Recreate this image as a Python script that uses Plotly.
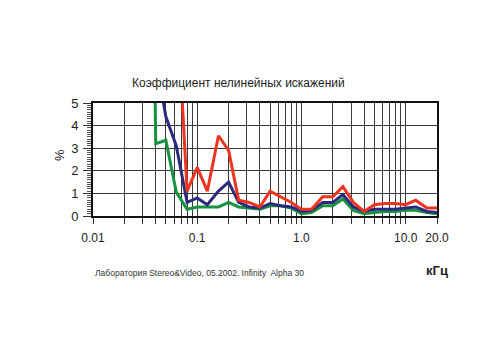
import plotly.graph_objects as go

freqs = [0.0315, 0.04, 0.05, 0.063, 0.08, 0.1, 0.125, 0.16, 0.2, 0.25, 0.315, 0.4, 0.5,
         0.63, 0.8, 1.0, 1.25, 1.6, 2.0, 2.5, 3.15, 4.0, 5.0, 6.3, 8.0, 10.0, 12.5, 16.0, 20.0]

red = [None, None, 20, 10, 1.1, 2.15, 1.1, 3.55, 2.9, 0.7, 0.6, 0.4, 1.1,
       0.85, 0.6, 0.3, 0.3, 0.85, 0.85, 1.3, 0.6, 0.2, 0.5, 0.55, 0.55, 0.5, 0.7, 0.35, 0.35]
blue = [None, 7, 4.4, 3.1, 0.6, 0.8, 0.5, 1.1, 1.5, 0.6, 0.4, 0.35, 0.55,
        0.45, 0.4, 0.2, 0.25, 0.6, 0.6, 0.95, 0.4, 0.2, 0.3, 0.3, 0.3, 0.35, 0.4, 0.2, 0.15]
green = [40, 3.2, 3.35, 1.05, 0.3, 0.4, 0.4, 0.4, 0.6, 0.4, 0.35, 0.3, 0.45,
         0.45, 0.35, 0.1, 0.15, 0.45, 0.45, 0.75, 0.25, 0.1, 0.15, 0.2, 0.2, 0.25, 0.25, 0.15, 0.1]

major_ticks = [0.01, 0.1, 1, 10, 20]
major_labels = ["0.01", "0.1", "1.0", "10.0", "20.0"]
y_ticks = [0, 1, 2, 3, 4, 5]

title_text = "Коэффициент нелинейных искажений"
footer_text = "Лаборатория Stereo&Video, 05.2002. Infinity  Alpha 30"
x_unit = "кГц"
y_unit = "%"

# grid / tick positions on log axis (1..9 per decade)
grid_vals = []
for dec in [0.01, 0.1, 1, 10]:
    for m in range(1, 10):
        v = round(dec * m, 6)
        if v <= 20:
            grid_vals.append(v)
grid_vals.append(20)
grid_text = []
for v in grid_vals:
    lab = ""
    for mt, ml in zip(major_ticks, major_labels):
        if abs(v - mt) < 1e-9:
            lab = ml
    grid_text.append(lab)

fig = go.Figure()
for vals, col in [(green, "#14923f"), (blue, "#2b2a7e"), (red, "#ec3420")]:
    fig.add_trace(go.Scatter(x=freqs, y=vals, mode="lines",
                             line=dict(color=col, width=3), connectgaps=False,
                             showlegend=False, hoverinfo="skip"))

font = "Liberation Sans, Arial, sans-serif"
fig.update_layout(
    width=500, height=350,
    margin=dict(l=93, r=63, t=103, b=134),
    paper_bgcolor="white", plot_bgcolor="white",
    font=dict(family=font, color="#222", size=12),
    xaxis=dict(type="log", range=[-2, 1.30103], tickvals=grid_vals, ticktext=grid_text,
               showgrid=True, gridcolor="#3a3a3a", gridwidth=1,
               ticks="outside", ticklen=6, tickcolor="#333", ticklabelstandoff=4,
               showline=True, linecolor="#111", linewidth=2, mirror=True,
               zeroline=False, tickfont=dict(size=12)),
    yaxis=dict(range=[0, 5], tickvals=y_ticks, showgrid=True, gridcolor="#3a3a3a",
               gridwidth=1, ticks="outside", ticklen=8, tickcolor="#333",
               minor=dict(dtick=0.1, ticks="outside", ticklen=4, tickcolor="#555", showgrid=False),
               showline=True, linecolor="#111", linewidth=2, mirror=True,
               zeroline=False, tickfont=dict(size=13), ticklabelstandoff=2),
    annotations=[
        dict(text=title_text, xref="paper", yref="paper", x=0.424, y=1.177,
             showarrow=False, font=dict(size=12, color="#222"), xanchor="center", yanchor="middle"),
        dict(text=footer_text, xref="paper", yref="paper", x=0.311, y=-0.504,
             showarrow=False, font=dict(size=8.5, color="#333"), xanchor="center", yanchor="middle"),
        dict(text="<b>" + x_unit + "</b>", xref="paper", yref="paper", x=1.0, y=-0.478,
             showarrow=False, font=dict(size=13, color="#222"), xanchor="center", yanchor="middle"),
        dict(text=y_unit, xref="paper", yref="paper", x=-0.096, y=0.54, textangle=-90,
             showarrow=False, font=dict(size=13, color="#222"), xanchor="center", yanchor="middle"),
    ],
)

fig.write_html("out.html")
